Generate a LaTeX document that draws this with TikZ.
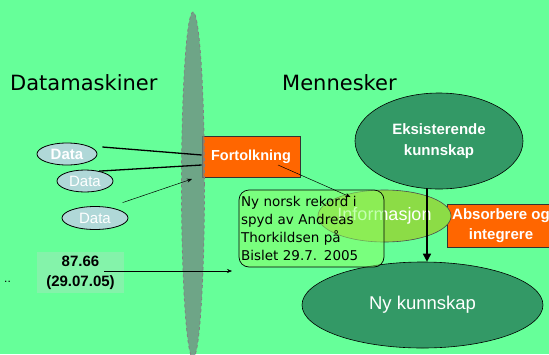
\documentclass[tikz,border=0pt]{standalone}
\usepackage{fontspec}
\setmainfont{Liberation Sans}
\newfontfamily\comic{DejaVu Sans}
\usetikzlibrary{shapes.geometric,arrows.meta}
\definecolor{bg}{RGB}{102,255,153}
\definecolor{lensc}{RGB}{113,135,129}
\definecolor{dgreen}{RGB}{51,153,102}
\definecolor{orng}{RGB}{255,102,0}
\definecolor{datab}{RGB}{176,216,216}
\definecolor{infog}{RGB}{140,220,70}
\definecolor{boxg}{RGB}{140,255,100}
\definecolor{numg}{RGB}{140,240,175}
\begin{document}
\begin{tikzpicture}[x=1pt,y=-1pt,
  every node/.style={inner sep=0pt},
  dataell/.style={ellipse, draw=black, line width=0.8pt, fill=datab, text=white},
  orbox/.style={rectangle, draw=black!80, line width=0.6pt, fill=orng, text=white, font=\bfseries\fontsize{15}{20}\selectfont, align=center},
  dgell/.style={ellipse, draw=black, line width=0.6pt, fill=dgreen, text=white, align=center},
  title/.style={anchor=base west, font=\comic\fontsize{21}{21}\selectfont},
  thinarrow/.style={-{Stealth[length=5pt,width=4pt]}, line width=0.5pt},
  thickline/.style={line width=1.3pt}
]
\useasboundingbox (0,0) rectangle (549,354);
\clip (0,0) rectangle (549,354);
\fill[bg] (0,0) rectangle (549,354);

% titles
\node[title] (tdm) at (10,90) {Datamaskiner};
\node[title] (tmen) at (282,90) {Mennesker};

% Fortolkning box (under lens)
\node[orbox, minimum width=98pt, minimum height=41pt, font=\bfseries\fontsize{14.5}{18}\selectfont] (fort) at (251,156.5) {Fortolkning};

% lens
\node[ellipse, minimum width=23pt, minimum height=346pt, fill=lensc, fill opacity=0.75, draw=gray, dashed, line width=0.8pt] (lens) at (193,185) {};

% data ellipses
\node[dataell, minimum width=60pt, minimum height=22pt, font=\bfseries\fontsize{15}{15}\selectfont] (d1) at (67,154) {Data};
\node[dataell, minimum width=56pt, minimum height=22pt, font=\fontsize{15}{15}\selectfont] (d2) at (85,181) {Data};
\node[dataell, minimum width=66pt, minimum height=23pt, font=\fontsize{15}{15}\selectfont] (d3) at (95,218) {Data};

% 87.66 box
\node[rectangle, fill=numg, fill opacity=0.8, text opacity=1, minimum width=87pt, minimum height=41pt, align=center, font=\bfseries\fontsize{15}{20}\selectfont] (num) at (80.5,272.5) {87.66\\(29.07.05)};
\node[anchor=base west, font=\fontsize{12}{12}\selectfont] (dots) at (4,282) {..};

% right side
\node[dgell, minimum width=168pt, minimum height=96pt, font=\bfseries\fontsize{15}{21}\selectfont] (eks) at (439,141) {Eksisterende\\kunnskap};
\node[dgell, minimum width=241pt, minimum height=86pt, font=\fontsize{18.5}{20}\selectfont] (nyk) at (422.5,305) {Ny kunnskap};
\node[orbox, minimum width=108pt, minimum height=43pt] (abs) at (501,225.5) {Absorbere og\\integrere};

% Informasjon ellipse, then text box over it
\node[ellipse, draw=black!70, line width=0.6pt, fill=infog, text=white, minimum width=125pt, minimum height=52pt, font=\fontsize{18}{18}\selectfont] (info) at (384.5,216) {Informasjon};
\node[rectangle, rounded corners=10pt, draw=black, line width=0.7pt, fill=boxg, fill opacity=0.5, text opacity=1, minimum width=145pt, minimum height=77pt, text width=141pt, inner xsep=2pt, align=left, font=\comic\fontsize{13.5}{18}\selectfont] (tb) at (311.5,228.5) {Ny norsk rekord i\\spyd av Andreas\\Thorkildsen på\\Bislet 29.7. 2005};

% connectors
\draw[thickline] ([shift={(5,-7)}]d1.east) -- ([yshift=1.5pt]fort.west);
\draw[thickline] (d2.35) -- ([yshift=-8.5pt]fort.west);
\coordinate (a3end) at (192,179);
\draw[thinarrow] ([shift={(4,-7)}]d3.north east) -- (a3end);
\coordinate (a4start) at ([xshift=27pt,yshift=-8.5pt]fort.center);
\coordinate (a4end) at ([shift={(-34,-19)}]info.center);
\draw[thinarrow] (a4start) -- (a4end);
\coordinate (a5end) at (232,271);
\draw[thinarrow] ([shift={(23.5,-1.5)}]num.center) -- (a5end);
\draw[line width=1.5pt, -{Triangle[length=8pt,width=8pt]}] ([xshift=-12pt]eks.south) -- ([xshift=4.5pt]nyk.north);
\end{tikzpicture}
\end{document}
